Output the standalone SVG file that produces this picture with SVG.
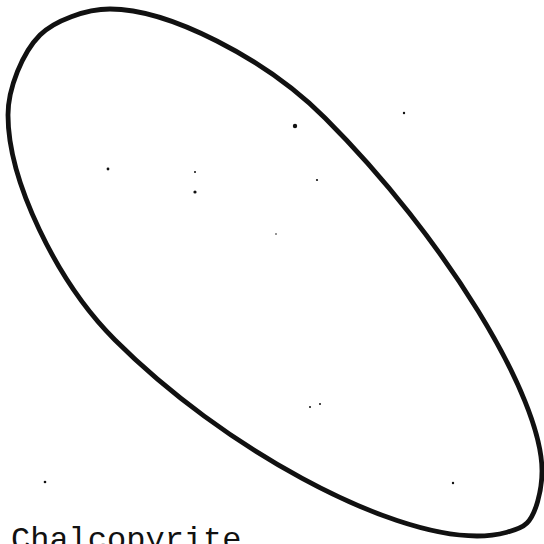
<svg xmlns="http://www.w3.org/2000/svg" width="544" height="544" viewBox="0 0 544 544">
<style>
.outline{fill:none;stroke:#111;stroke-width:4.8;stroke-linejoin:round}
.speck{fill:#111}
.label{font-family:"Liberation Mono","Courier New",monospace;font-size:32px;fill:#111}
</style>
<rect width="544" height="544" fill="#fff"/>
<g id="grain">
<path class="outline" d="M110,9 C168.3,9 265,58 325,118 C444.4,237.4 542,396.2 542,471 C542,491.4 535.3,514.8 527,523 C519.8,530.2 497.4,536 477,536 C385.7,536 222.8,447.8 115,340 C56.1,281.1 8,179.9 8,115 C8,88.6 22.4,52.6 40,35 C54.3,20.7 85.8,9 110,9 Z"/>
</g>
<g id="specks">
<circle class="speck" cx="295" cy="126" r="2.2"/>
<circle class="speck" cx="404" cy="113" r="1.2"/>
<circle class="speck" cx="108" cy="169" r="1.4"/>
<circle class="speck" cx="195" cy="172" r="1"/>
<circle class="speck" cx="195" cy="192" r="1.6"/>
<circle class="speck" cx="317" cy="180" r="1.1"/>
<circle class="speck" cx="276" cy="234" r="0.8"/>
<circle class="speck" cx="310" cy="407" r="1"/>
<circle class="speck" cx="320" cy="404" r="1"/>
<circle class="speck" cx="453" cy="483" r="1.2"/>
<circle class="speck" cx="45" cy="482" r="1.3"/>
</g>
<text class="label" x="11" y="549">Chalcopyrite</text>
</svg>
